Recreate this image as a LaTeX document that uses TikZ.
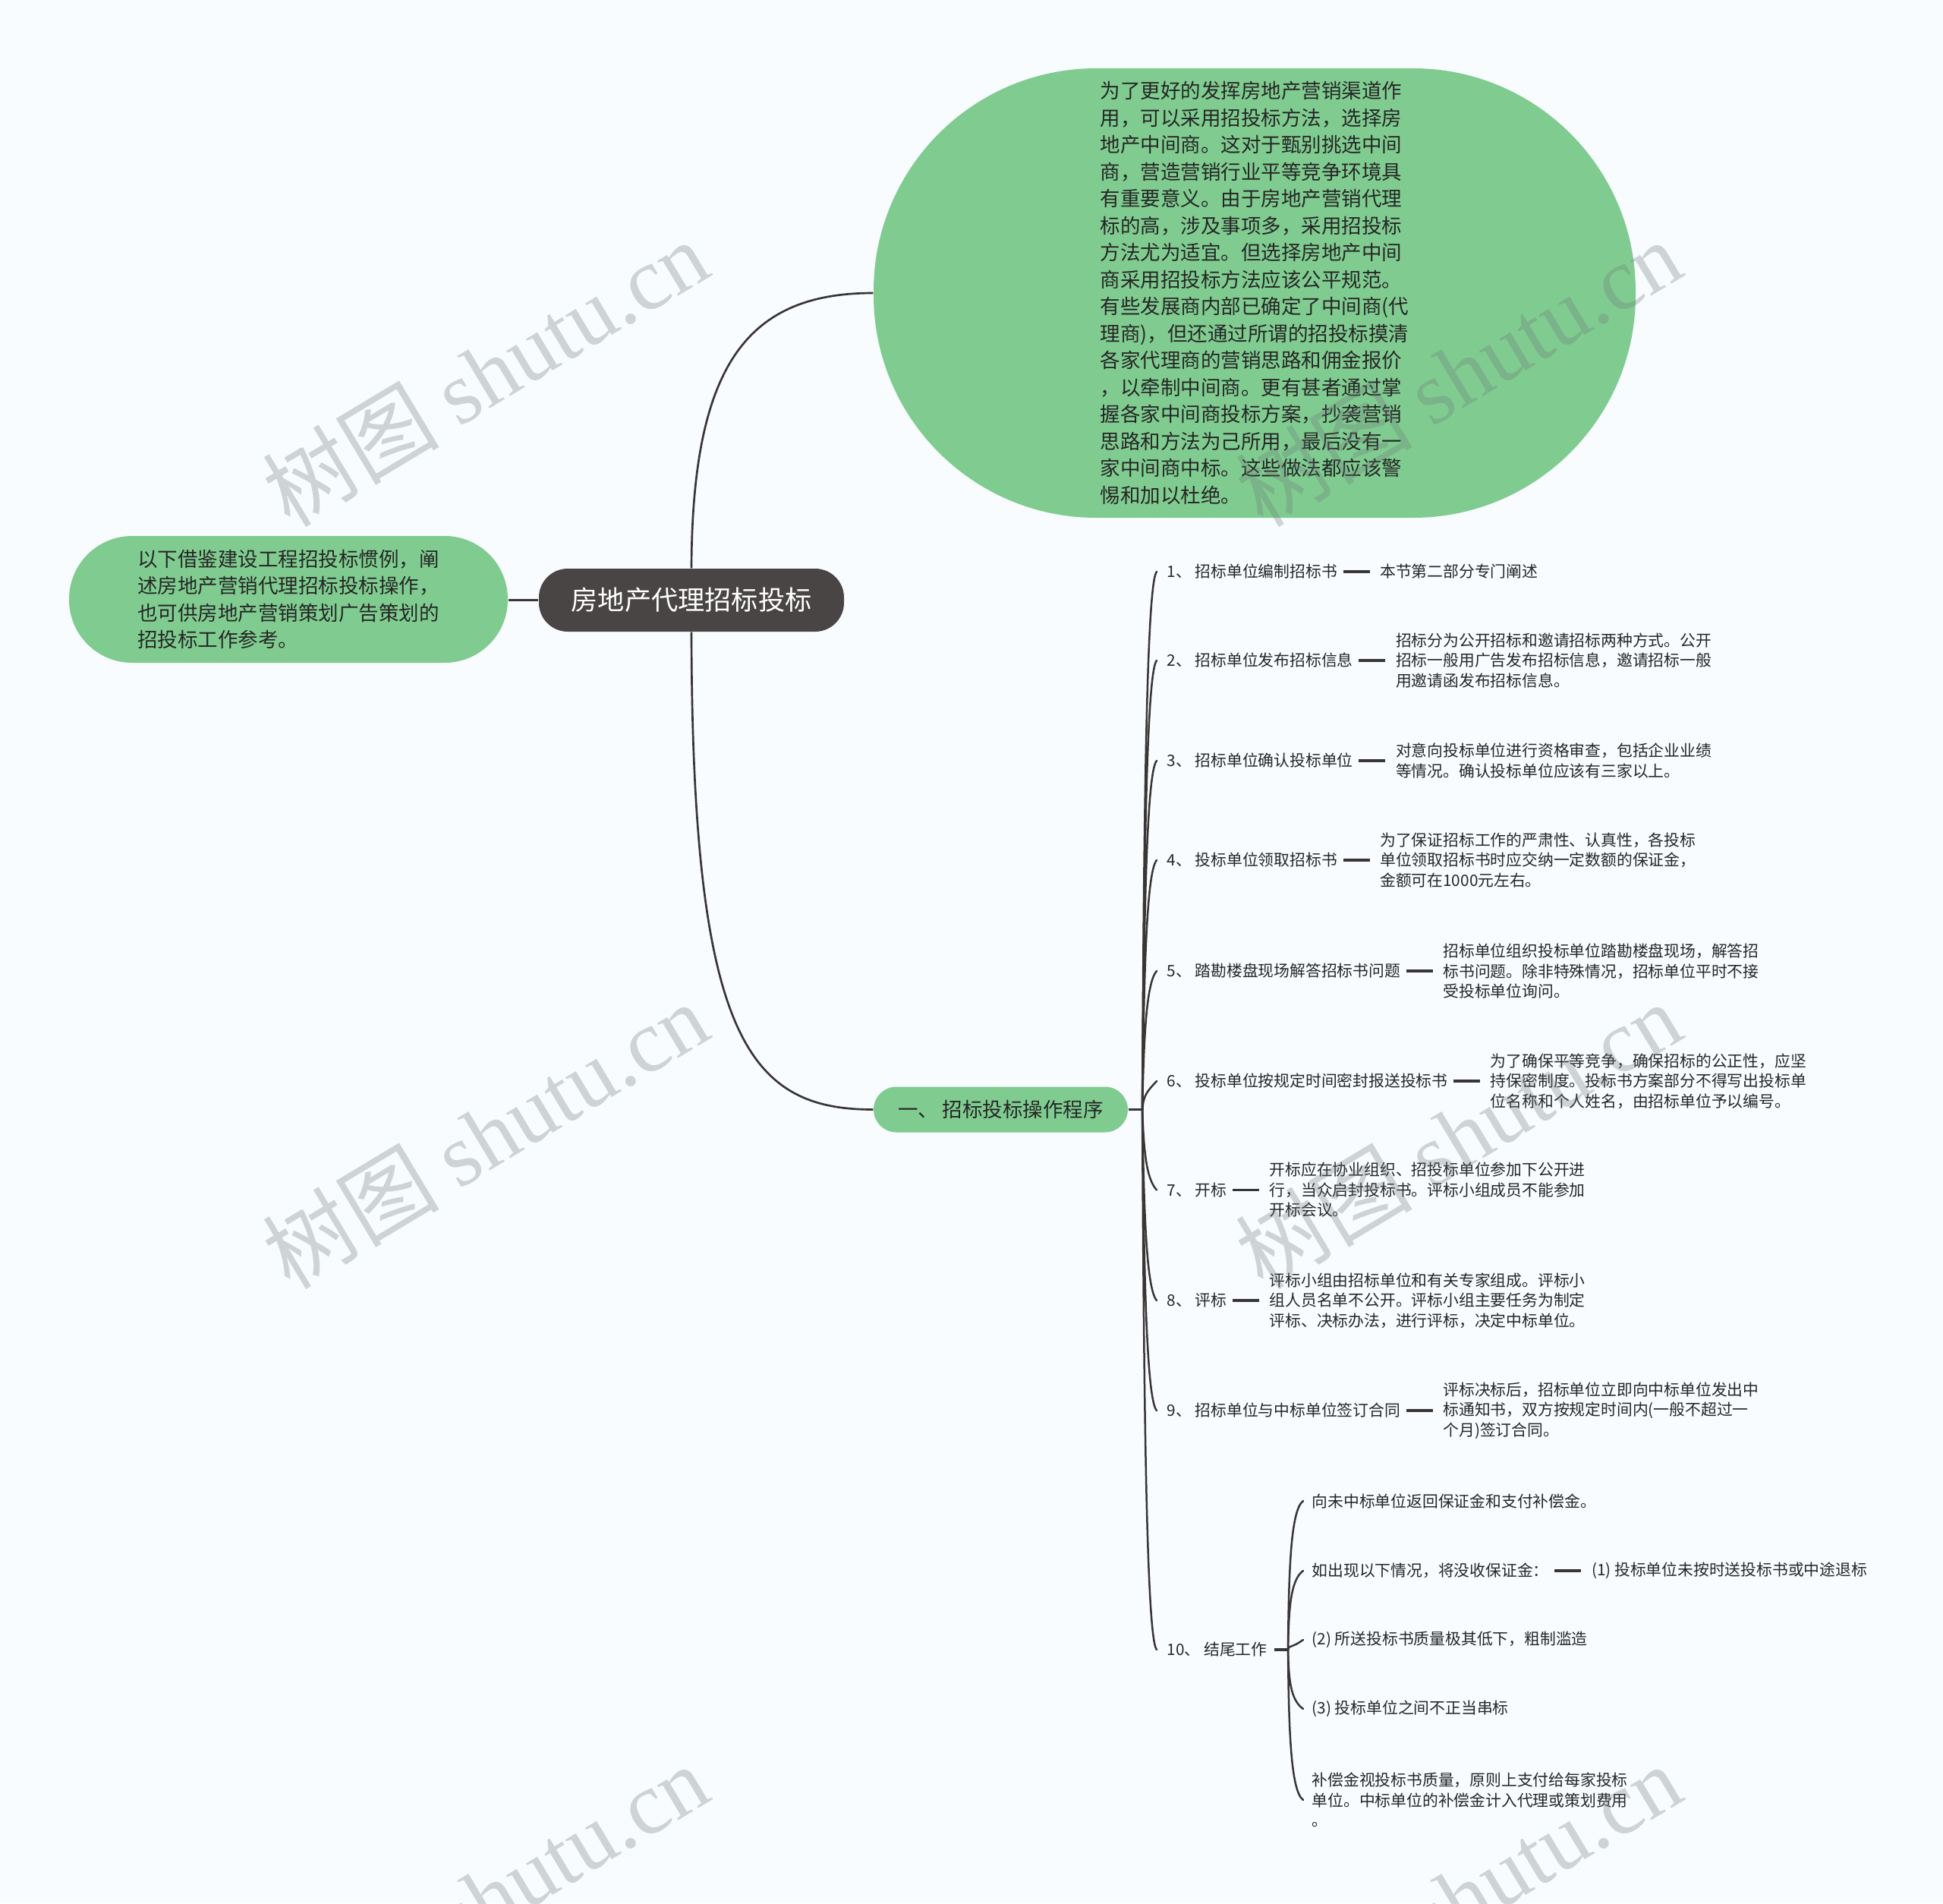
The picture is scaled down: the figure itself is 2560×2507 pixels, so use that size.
\documentclass[tikz,border=0pt]{standalone}
\usepackage{fontspec}
\setmainfont{Noto Sans CJK SC}
\newfontfamily\wmserif{Liberation Serif}
\newfontfamily\wmcjk{Noto Sans CJK SC}
\definecolor{bg}{RGB}{248,252,255}
\definecolor{leaf}{RGB}{128,204,144}
\definecolor{rootc}{RGB}{74,69,69}
\definecolor{linec}{RGB}{58,53,53}
\definecolor{txt}{RGB}{38,38,38}
\definecolor{wm}{RGB}{110,118,122}
\begin{document}
\begin{tikzpicture}[x=0.3pt,y=-0.3pt,
  bigfont/.style={font=\fontsize{7.95pt}{10.65pt}\selectfont},
  leafbox/.style={fill=leaf,draw=none,text=txt,align=left,bigfont,inner sep=0pt},
  rootbox/.style={fill=rootc,draw=none,text=white,font=\fontsize{10.56pt}{12pt}\selectfont,inner sep=0pt,minimum width=120.6pt,minimum height=24.9pt,rounded corners=11.4pt},
  itemtext/.style={font=\fontsize{6.24pt}{7.95pt}\selectfont,inner sep=0pt,text=txt,align=left,anchor=west},
  conn/.style={draw=linec,line width=0.8pt},
  branch/.style={draw=linec,line width=0.75pt,line cap=round},
  stub/.style={draw=linec,line width=1.1pt},
  wmark/.style={text=wm,opacity=0.3,anchor=base west,rotate=31,inner sep=0pt,font=\fontsize{35pt}{38pt}\selectfont}
]
\useasboundingbox (0,0) rectangle (2560,2507);
\fill[bg] (0,0) rectangle (2560,2507);

% main nodes
\node[rootbox] (root) at (911,790.5) {房地产代理招标投标};
\node[leafbox,minimum width=173.4pt,minimum height=50.1pt,rounded corners=24.9pt] (intro) at (380,789.5) {以下借鉴建设工程招投标惯例，阐\\述房地产营销代理招标投标操作，\\也可供房地产营销策划广告策划的\\招投标工作参考。\hspace{2.4pt}};
\node[leafbox,minimum width=301.2pt,minimum height=177.6pt,rounded corners=88pt] (top) at (1653,386) {为了更好的发挥房地产营销渠道作\\用，可以采用招投标方法，选择房\\地产中间商。这对于甄别挑选中间\\商，营造营销行业平等竞争环境具\\有重要意义。由于房地产营销代理\\标的高，涉及事项多，采用招投标\\方法尤为适宜。但选择房地产中间\\商采用招投标方法应该公平规范。\\有些发展商内部已确定了中间商(代\\理商)，但还通过所谓的招投标摸清\\各家代理商的营销思路和佣金报价\\，以牵制中间商。更有甚者通过掌\\握各家中间商投标方案，抄袭营销\\思路和方法为己所用，最后没有一\\家中间商中标。这些做法都应该警\\惕和加以杜绝。};
\node[leafbox,minimum width=100.5pt,minimum height=18pt,rounded corners=9pt] (sec) at (1318.5,1461.5) {一、 招标投标操作程序};

% connectors from root
\draw[conn] (root.west) -- (intro.east |- root.west);
\draw[conn] (root.north) .. controls (912,480) and (985,386) .. (top.west);
\draw[conn] (root.south) .. controls (912,1365) and (985,1461.5) .. (sec.west);

% items
\node[itemtext] (l1) at (1537,753) {1、 招标单位编制招标书};
\node[itemtext] (d1) at ([xshift=16.5pt]l1.east) {本节第二部分专门阐述};
\node[itemtext] (l2) at (1537,870) {2、 招标单位发布招标信息};
\node[itemtext] (d2) at ([xshift=16.5pt]l2.east) {招标分为公开招标和邀请招标两种方式。公开\\招标一般用广告发布招标信息，邀请招标一般\\用邀请函发布招标信息。};
\node[itemtext] (l3) at (1537,1002) {3、 招标单位确认投标单位};
\node[itemtext] (d3) at ([xshift=16.5pt]l3.east) {对意向投标单位进行资格审查，包括企业业绩\\等情况。确认投标单位应该有三家以上。};
\node[itemtext] (l4) at (1537,1133) {4、 投标单位领取招标书};
\node[itemtext] (d4) at ([xshift=16.5pt]l4.east) {为了保证招标工作的严肃性、认真性，各投标\\单位领取招标书时应交纳一定数额的保证金，\\金额可在1000元左右。};
\node[itemtext] (l5) at (1537,1279) {5、 踏勘楼盘现场解答招标书问题};
\node[itemtext] (d5) at ([xshift=16.5pt]l5.east) {招标单位组织投标单位踏勘楼盘现场，解答招\\标书问题。除非特殊情况，招标单位平时不接\\受投标单位询问。};
\node[itemtext] (l6) at (1537,1424) {6、 投标单位按规定时间密封报送投标书};
\node[itemtext] (d6) at ([xshift=16.5pt]l6.east) {为了确保平等竞争，确保招标的公正性，应坚\\持保密制度。投标书方案部分不得写出投标单\\位名称和个人姓名，由招标单位予以编号。};
\node[itemtext] (l7) at (1537,1567.5) {7、 开标};
\node[itemtext] (d7) at ([xshift=16.5pt]l7.east) {开标应在协业组织、招投标单位参加下公开进\\行，当众启封投标书。评标小组成员不能参加\\开标会议。};
\node[itemtext] (l8) at (1537,1713) {8、 评标};
\node[itemtext] (d8) at ([xshift=16.5pt]l8.east) {评标小组由招标单位和有关专家组成。评标小\\组人员名单不公开。评标小组主要任务为制定\\评标、决标办法，进行评标，决定中标单位。};
\node[itemtext] (l9) at (1537,1858) {9、 招标单位与中标单位签订合同};
\node[itemtext] (d9) at ([xshift=16.5pt]l9.east) {评标决标后，招标单位立即向中标单位发出中\\标通知书，双方按规定时间内(一般不超过一\\个月)签订合同。};
\node[itemtext] (l10) at (1537,2173) {10、 结尾工作};

\foreach \i in {1,...,9}{
  \draw[stub] ([xshift=2.1pt]l\i.east) -- ([xshift=-3.9pt]d\i.west);
}

% sub items of 10
\node[itemtext] (s1) at (1728,1977) {向未中标单位返回保证金和支付补偿金。};
\node[itemtext] (s2) at (1728,2069) {如出现以下情况，将没收保证金：};
\node[itemtext] (s2a) at ([xshift=16.5pt]s2.east) {(1) 投标单位未按时送投标书或中途退标};
\node[itemtext] (s3) at (1728,2160) {(2) 所送投标书质量极其低下，粗制滥造};
\node[itemtext] (s4) at (1728,2251) {(3) 投标单位之间不正当串标};
\node[itemtext] (s5) at (1728,2371) {补偿金视投标书质量，原则上支付给每家投标\\单位。中标单位的补偿金计入代理或策划费用\\。};
\draw[stub] ([xshift=2.1pt]s2.east) -- ([xshift=-3.9pt]s2a.west);

% branch connectors from section node
\coordinate (hub) at (1505,1461.5);
\draw[conn] (sec.east) -- (hub);
\draw[branch] (hub) .. controls (1507,1107.25) and (1510,768) .. ([xshift=-3.9pt]l1.west);
\draw[branch] (hub) .. controls (1507,1165.75) and (1510,885) .. ([xshift=-3.9pt]l2.west);
\draw[branch] (hub) .. controls (1507,1231.75) and (1510,1017) .. ([xshift=-3.9pt]l3.west);
\draw[branch] (hub) .. controls (1507,1297.25) and (1510,1148) .. ([xshift=-3.9pt]l4.west);
\draw[branch] (hub) .. controls (1507,1370.25) and (1510,1294) .. ([xshift=-3.9pt]l5.west);
\draw[branch] (hub) .. controls (1507,1442.75) and (1510,1439) .. ([xshift=-3.9pt]l6.west);
\draw[branch] (hub) .. controls (1507,1514.5) and (1510,1552.5) .. ([xshift=-3.9pt]l7.west);
\draw[branch] (hub) .. controls (1507,1587.25) and (1510,1698) .. ([xshift=-3.9pt]l8.west);
\draw[branch] (hub) .. controls (1507,1659.75) and (1510,1843) .. ([xshift=-3.9pt]l9.west);
\draw[branch] (hub) .. controls (1507,1817.25) and (1510,2158) .. ([xshift=-3.9pt]l10.west);

% branch connectors of item 10
\coordinate (hubB) at (1697,2173);
\draw[stub] ([xshift=2.7pt]l10.east) -- (hubB);
\draw[branch] (hubB) .. controls (1698,2075) and (1700,1989) .. ([xshift=-3.3pt]s1.west);
\draw[branch] (hubB) .. controls (1698,2121) and (1700,2081) .. ([xshift=-3.3pt]s2.west);
\draw[branch] (hubB) .. controls (1698,2166.5) and (1700,2172) .. ([xshift=-3.3pt]s3.west);
\draw[branch] (hubB) .. controls (1698,2212) and (1700,2239) .. ([xshift=-3.3pt]s4.west);
\draw[branch] (hubB) .. controls (1698,2272) and (1700,2359) .. ([xshift=-3.3pt]s5.west);

% watermarks
\foreach \wx/\wy in {382/697,1664/697,382/1701,1664/1701,382/2705,1664/2705}{
  \node[wmark] at (\wx,\wy) {{\wmcjk 树图} {\wmserif shutu.cn}};
}
\end{tikzpicture}
\end{document}
